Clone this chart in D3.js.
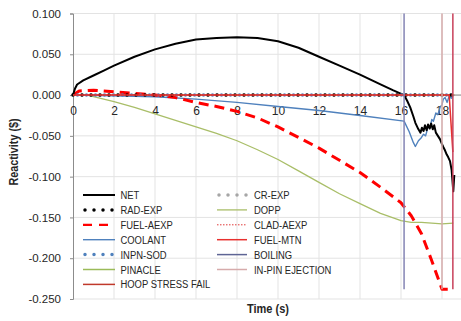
<!DOCTYPE html>
<html>
<head>
<meta charset="utf-8">
<script src="https://cdn.jsdelivr.net/npm/d3@7"></script>
<style>
  html, body { margin: 0; padding: 0; background: #fff; }
  svg { display: block; }
  text { font-family: "Liberation Sans", Arial, sans-serif; fill: #262626; }
</style>
</head>
<body>
<svg id="chart" width="461" height="321"></svg>
<script>
// Reactivity components over the transient, in dollars, versus time (s)
const xTicks = [0, 2, 4, 6, 8, 10, 12, 14, 16, 18];
const yTicks = [0.100, 0.050, 0.000, -0.050, -0.100, -0.150, -0.200, -0.250];

const netPts = [[0,0],[0.1,0.008],[0.2,0.013],[0.5,0.018],[1,0.024],[1.5,0.030],[2,0.036],[3,0.047],[4,0.056],[5,0.063],[6,0.068],[7,0.070],[8,0.071],[9,0.070],[10,0.066],[11,0.058],[12,0.047],[13,0.036],[14,0.025],[15,0.013],[15.6,0.006],[16.15,0.0],[16.3,-0.007],[16.45,-0.015],[16.6,-0.026],[16.7,-0.034],[16.85,-0.042],[16.95,-0.046],[17.02,-0.040],[17.1,-0.044],[17.17,-0.037],[17.25,-0.043],[17.32,-0.036],[17.4,-0.041],[17.47,-0.035],[17.55,-0.042],[17.62,-0.037],[17.7,-0.046],[17.8,-0.050],[17.9,-0.054],[18.0,-0.060],[18.07,-0.064],[18.15,-0.068],[18.23,-0.073],[18.3,-0.076],[18.39,-0.081],[18.47,-0.092],[18.55,-0.118],[18.6,-0.098]];
const radExpPts = [[0,0],[18.6,0]];
const fuelAexpPts = [[0,0],[0.3,0.005],[1,0.006],[2,0.004],[3,0.002],[4,0.0],[5,-0.003],[6,-0.009],[7,-0.014],[8,-0.020],[9,-0.028],[10,-0.039],[11,-0.052],[12,-0.065],[13,-0.080],[14,-0.095],[15,-0.113],[16,-0.132],[16.5,-0.148],[17,-0.170],[17.5,-0.203],[18,-0.238],[18.53,-0.238]];
const coolantPts = [[0,0],[2,-0.001],[4,-0.002],[6,-0.005],[8,-0.009],[10,-0.014],[12,-0.019],[14,-0.025],[16.15,-0.032],[16.4,-0.045],[16.6,-0.058],[16.7,-0.063],[16.85,-0.056],[17.0,-0.052],[17.1,-0.048],[17.2,-0.050],[17.33,-0.038],[17.42,-0.040],[17.5,-0.030],[17.58,-0.032],[17.7,-0.022],[17.8,-0.024],[17.9,-0.015],[18.0,-0.012],[18.06,-0.005],[18.15,-0.003],[18.25,-0.009],[18.35,-0.001],[18.45,-0.004],[18.55,0.0]];
const inpnSodPts = [[0,0],[18.6,0]];
const pinaclePts = [[0,0],[18.6,0]];
const crExpPts = [[0,0],[18.6,0]];
const doppPts = [[0,0],[0.7,0.0],[2,-0.008],[3,-0.015],[4,-0.023],[5,-0.031],[6,-0.039],[7,-0.047],[8,-0.056],[9,-0.067],[10,-0.079],[11,-0.093],[12,-0.107],[13,-0.121],[14,-0.133],[15,-0.145],[16,-0.154],[16.5,-0.156],[17,-0.156],[18,-0.158],[18.55,-0.157]];
const cladAexpPts = [[0,0],[18.6,0]];
const fuelMtnPts = [[0,0],[18.35,0],[18.53,-0.070]];
const boilingPts = [[16.15,0.100],[16.15,-0.238]];
const inPinEjectPts = [[18.0,0.100],[18.0,-0.238]];
const hoopFailPts = [[18.53,0.100],[18.53,-0.238]];

const series = [
  { name: "CR-EXP",           pts: crExpPts,      color: "#A6A6A6", width: 3.5, dash: "0 9",  cap: "round", col: 1, row: 0 },
  { name: "PINACLE",          pts: pinaclePts,    color: "#9BBB59", width: 1.5, dash: null,   cap: "butt",  col: 0, row: 5 },
  { name: "DOPP",             pts: doppPts,       color: "#A9BE68", width: 1.3, dash: null,   cap: "butt",  col: 1, row: 1 },
  { name: "COOLANT",          pts: coolantPts,    color: "#4F81BD", width: 1.4, dash: null,   cap: "butt",  col: 0, row: 3 },
  { name: "FUEL-AEXP",        pts: fuelAexpPts,   color: "#FF0000", width: 3,   dash: "10 6", cap: "butt",  col: 0, row: 2 },
  { name: "NET",              pts: netPts,        color: "#000000", width: 2,   dash: null,   cap: "butt",  col: 0, row: 0 },
  { name: "INPN-SOD",         pts: inpnSodPts,    color: "#4F81BD", width: 3.5, dash: "0 9",  cap: "round", col: 0, row: 4, offset: 4.5 },
  { name: "RAD-EXP",          pts: radExpPts,     color: "#000000", width: 3.5, dash: "0 9",  cap: "round", col: 0, row: 1 },
  { name: "CLAD-AEXP",        pts: cladAexpPts,   color: "#E03A3A", width: 1,   dash: "1.5 1.5", cap: "butt", col: 1, row: 2 },
  { name: "FUEL-MTN",         pts: fuelMtnPts,    color: "#E8302E", width: 1.5, dash: null,   cap: "butt",  col: 1, row: 3 },
  { name: "BOILING",          pts: boilingPts,    color: "#8484B4", width: 1.5, dash: null,   cap: "butt",  col: 1, row: 4, legendColor: "#5E6595" },
  { name: "IN-PIN EJECTION",  pts: inPinEjectPts, color: "#D6ABAB", width: 1.5, dash: null,   cap: "butt",  col: 1, row: 5 },
  { name: "HOOP STRESS FAIL", pts: hoopFailPts,   color: "#C8405A", width: 1.5, dash: null,   cap: "butt",  col: 0, row: 6, legendColor: "#C0392B" }
];

const svg = d3.select("#chart");
const x = d3.scaleLinear().domain([0, 19]).range([73, 462.5]);
const y = d3.scaleLinear().domain([-0.25, 0.1]).range([299, 13.5]);

// gridlines
const grid = svg.append("g");
grid.selectAll("line.h").data(yTicks).join("line")
  .attr("x1", x(0)).attr("x2", 461)
  .attr("y1", d => y(d)).attr("y2", d => y(d))
  .attr("stroke", "#E3E3E3").attr("stroke-width", 1);
grid.selectAll("line.v").data(xTicks.filter(d => d > 0)).join("line")
  .attr("x1", d => x(d)).attr("x2", d => x(d))
  .attr("y1", y(0.1)).attr("y2", y(-0.25))
  .attr("stroke", "#E3E3E3").attr("stroke-width", 1);

// left axis
const yAxis = svg.append("g").attr("transform", `translate(${x(0)},0)`)
  .call(d3.axisLeft(y).tickValues(yTicks).tickFormat(d3.format(".3f")).tickSize(3).tickPadding(9));
yAxis.select(".domain").attr("stroke", "#8C8C8C");
yAxis.selectAll(".tick line").attr("stroke", "#8C8C8C");
yAxis.selectAll("text").attr("font-size", 11.5).attr("fill", "#333")
  .text(d => d3.format(".3f")(d).replace("−", "-"));

// bottom axis running along zero
const xAxis = svg.append("g").attr("transform", `translate(0,${y(0)})`)
  .call(d3.axisBottom(x).tickValues(xTicks).tickFormat(d3.format("d")).tickSize(0).tickPadding(11));
xAxis.select(".domain").attr("stroke", "#8C8C8C").attr("d", `M${x(0)},0H461`);
xAxis.selectAll("text").attr("font-size", 12).attr("fill", "#333");

// data lines
const line = d3.line().x(d => x(d[0])).y(d => y(d[1]));
const plot = svg.append("g");
series.forEach(s => {
  plot.append("path").datum(s.pts)
    .attr("d", line)
    .attr("fill", "none")
    .attr("stroke", s.color)
    .attr("stroke-width", s.width)
    .attr("stroke-linecap", s.cap)
    .attr("stroke-linejoin", "round")
    .attr("stroke-dasharray", s.dash)
    .attr("stroke-dashoffset", s.offset || 0);
});

// legend (labels set in a condensed width)
const legend = svg.append("g");
const colX = [[83, 115, 120.5], [217, 247, 254]];
const rowY = d => 195 + d * 14.9;
series.forEach(s => {
  const [x1, x2, tx] = colX[s.col];
  const yy = rowY(s.row);
  legend.append("line")
    .attr("x1", s.cap === "round" ? x1 + 2 : x1).attr("x2", x2)
    .attr("y1", yy).attr("y2", yy)
    .attr("stroke", s.legendColor || s.color)
    .attr("stroke-width", s.cap === "round" ? 3.5 : Math.min(s.width, 2.2))
    .attr("stroke-linecap", s.cap)
    .attr("stroke-dasharray", s.name === "FUEL-AEXP" ? "9 7" : s.dash);
  legend.append("text")
    .attr("transform", `translate(${tx},${yy}) scale(0.82,1)`)
    .attr("dy", "0.35em")
    .attr("font-size", 11.5)
    .text(s.name);
});

// axis titles
svg.append("text")
  .attr("transform", "translate(268,309) scale(0.92,1)")
  .attr("dy", "0.35em")
  .attr("text-anchor", "middle").attr("font-size", 12).attr("font-weight", "bold")
  .text("Time (s)");
svg.append("text")
  .attr("transform", "translate(14,152) rotate(-90) scale(0.9,1)")
  .attr("dy", "0.35em")
  .attr("text-anchor", "middle").attr("font-size", 12).attr("font-weight", "bold")
  .text("Reactivity ($)");
</script>
</body>
</html>
